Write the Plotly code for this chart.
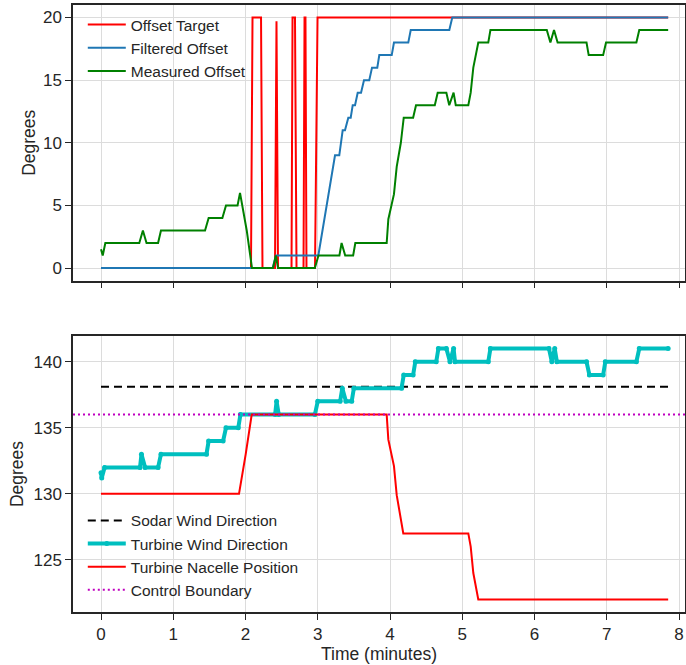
import plotly.graph_objects as go
from plotly.subplots import make_subplots

# ---------------- data ----------------
target_t = [0, 2.076, 2.097, 2.215, 2.235, 2.408, 2.429, 2.450, 2.637, 2.651, 2.685,
            2.706, 2.803, 2.817, 2.830, 2.844, 2.962, 2.997, 7.85]
target_v = [0, 0, 20, 20, 0, 0, 19.7, 0, 0, 20, 20,
            0, 0, 20, 20, 0, 0, 20, 20]

filtered_t = [0, 2.376, 2.422, 3.008, 3.239, 3.298, 3.345, 3.377, 3.423, 3.456, 3.484,
              3.516, 3.553, 3.599, 3.640, 3.713, 3.751, 3.824, 3.852, 4.024, 4.055,
              4.253, 4.287, 4.821, 4.862, 7.85]
filtered_v = [0, 0, 1, 1, 9, 9, 11, 11, 12, 12, 13,
              13, 14, 14, 15, 15, 16, 16, 17, 17, 18,
              18, 19, 19, 20, 20]

measured_t = [0, 0.024, 0.06, 0.53, 0.58, 0.63, 0.79, 0.83, 1.44, 1.49, 1.68, 1.73,
              1.89, 1.924, 2.017, 2.09, 2.38, 2.42, 2.45, 2.96, 3.01, 3.30, 3.33,
              3.38, 3.49, 3.52, 3.954, 3.977, 4.055, 4.093, 4.15, 4.19, 4.32, 4.36,
              4.62, 4.66, 4.78, 4.82, 4.88, 4.91, 5.084, 5.117, 5.153, 5.222, 5.36,
              5.39, 6.17, 6.22, 6.27, 6.32, 6.72, 6.75, 6.95, 6.99, 7.41, 7.45, 7.85]
measured_v = [1.5, 1.0, 2, 2, 3, 2, 2, 3, 3, 4, 4, 5,
              5, 6, 3, 0, 0, 1, 0, 0, 1, 1, 2,
              1, 1, 2, 2, 3.9, 5.9, 8.1, 10, 12, 12, 13,
              13, 14, 14, 13, 14, 13, 13, 14, 16, 18, 18,
              19, 19, 18, 19, 18, 18, 17, 17, 18, 18, 19, 19]

sodar_t = [0, 7.85]
sodar_v = [138.1, 138.1]

wind_t = [0, 0.01, 0.05, 0.54, 0.56, 0.61, 0.79, 0.83, 1.46, 1.49, 1.69, 1.73,
          1.90, 1.93, 2.41, 2.43, 2.46, 2.96, 3.00, 3.31, 3.34, 3.39, 3.47, 3.50,
          4.16, 4.19, 4.32, 4.35, 4.64, 4.67, 4.78, 4.83, 4.88, 4.90, 5.36, 5.39,
          6.20, 6.24, 6.28, 6.31, 6.72, 6.76, 6.95, 6.98, 7.41, 7.45, 7.85]
wind_v = [131.6, 131.2, 132, 132, 133, 132, 132, 133, 133, 134, 134, 135,
          135, 136, 136, 137, 136, 136, 137, 137, 138, 137, 137, 138,
          138, 139, 139, 140, 140, 141, 141, 140, 141, 140, 140, 141,
          141, 140, 141, 140, 140, 139, 139, 140, 140, 141, 141]

nacelle_t = [0, 1.91, 2.003, 2.086, 3.954, 3.977, 4.055, 4.093, 4.184, 5.084,
             5.117, 5.153, 5.222, 7.85]
nacelle_v = [130, 130, 133, 136, 136, 134.1, 132.1, 129.9, 127, 127,
             126, 124, 122, 122]

boundary_value = 136

x_range = [-0.3875, 8.083]
top_y_range = [-1, 21]
bot_y_range = [121.05, 141.95]
x_ticks = [0, 1, 2, 3, 4, 5, 6, 7, 8]
top_y_ticks = [0, 5, 10, 15, 20]
bot_y_ticks = [125, 130, 135, 140]

# ---------------- figure ----------------
FONT = "Liberation Sans, Arial, sans-serif"
TXT = "#262626"
GRID = "#dcdcdc"

fig = make_subplots(rows=2, cols=1, shared_xaxes=True, vertical_spacing=0.09)

fig.add_trace(go.Scatter(x=target_t, y=target_v, mode="lines", name="Offset Target",
                         line=dict(color="#ff0000", width=2), legend="legend"), row=1, col=1)
fig.add_trace(go.Scatter(x=filtered_t, y=filtered_v, mode="lines", name="Filtered Offset",
                         line=dict(color="#1f77b4", width=2), legend="legend"), row=1, col=1)
fig.add_trace(go.Scatter(x=measured_t, y=measured_v, mode="lines", name="Measured Offset",
                         line=dict(color="#008000", width=2), legend="legend"), row=1, col=1)

fig.add_trace(go.Scatter(x=sodar_t, y=sodar_v, mode="lines", name="Sodar Wind Direction",
                         line=dict(color="#000000", width=2, dash="8px,5px"),
                         legend="legend2"), row=2, col=1)
fig.add_trace(go.Scatter(x=wind_t, y=wind_v, mode="lines+markers", name="Turbine Wind Direction",
                         line=dict(color="#00bfbf", width=4),
                         marker=dict(color="#00bfbf", size=5),
                         legend="legend2"), row=2, col=1)
fig.add_trace(go.Scatter(x=nacelle_t, y=nacelle_v, mode="lines", name="Turbine Nacelle Position",
                         line=dict(color="#ff0000", width=2), legend="legend2"), row=2, col=1)
fig.add_trace(go.Scatter(x=x_range, y=[boundary_value, boundary_value], mode="lines",
                         name="Control Boundary",
                         line=dict(color="#bf00bf", width=2, dash="2px,3px"),
                         legend="legend2"), row=2, col=1)

axis_common = dict(showline=True, linecolor=TXT, linewidth=1.5, mirror=True,
                   ticks="outside", ticklen=6, tickwidth=1.3, tickcolor=TXT,
                   showgrid=True, gridcolor=GRID, gridwidth=1, zeroline=False,
                   automargin=False,
                   tickfont=dict(family=FONT, size=17, color=TXT))

fig.update_xaxes(**axis_common, range=x_range, tickvals=x_ticks)
fig.update_xaxes(row=2, col=1, title=dict(text="Time (minutes)", standoff=3,
                                          font=dict(family=FONT, size=17.5, color=TXT)))
fig.update_yaxes(**axis_common)
fig.update_yaxes(row=1, col=1, range=top_y_range, tickvals=top_y_ticks, domain=[0.546, 1.0],
                 title=dict(text="Degrees", standoff=3, font=dict(family=FONT, size=17.5, color=TXT)))
fig.update_yaxes(row=2, col=1, range=bot_y_range, tickvals=bot_y_ticks, domain=[0.0, 0.4547],
                 title=dict(text="Degrees", standoff=5, font=dict(family=FONT, size=17.5, color=TXT)))

legend_common = dict(bgcolor="rgba(0,0,0,0)", borderwidth=0, itemwidth=38,
                     font=dict(family=FONT, size=15.5, color=TXT),
                     xanchor="left", tracegroupgap=0)

fig.update_layout(
    width=686, height=665,
    margin=dict(l=73, r=1, t=5, b=53, autoexpand=False),
    paper_bgcolor="white", plot_bgcolor="white",
    font=dict(family=FONT, color=TXT),
    legend=dict(**legend_common, x=0.016, y=0.995, yanchor="top"),
    legend2=dict(**legend_common, x=0.016, y=0.0085, yanchor="bottom"),
    showlegend=True,
)

fig.write_html("out.html", config={"displayModeBar": False},
               post_script="document.body.style.margin='0';document.body.style.overflow='hidden';")
